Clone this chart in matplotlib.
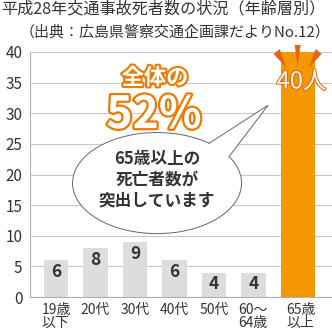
import matplotlib
matplotlib.use("Agg")
import matplotlib.pyplot as plt
import matplotlib.patheffects as pe
from matplotlib.patches import Ellipse, Polygon
import numpy as np

plt.rcParams['font.family'] = ['Noto Sans CJK JP', 'DejaVu Sans']

# data
age_groups = ['19歳\n以下', '20代', '30代', '40代', '50代', '60～\n64歳', '65歳\n以上']
deaths = [6, 8, 9, 6, 4, 4, 40]
share_label = '52%'
share_head = '全体の'
bubble_text = '65歳以上の\n死亡者数が\n突出しています'
title = '平成28年交通事故死者数の状況（年齢層別）'
source = '（出典：広島県警察交通企画課だよりNo.12）'

GRAY = '#dcdddd'
ORANGE = '#f39800'
DARK_ORANGE = '#e8630f'
LINE_ORANGE = '#ee7800'
TEXT = '#333333'

W = H = 332
fig = plt.figure(figsize=(W / 100, H / 100), dpi=100)
ax = fig.add_axes([29.5 / W, 1 - 297 / H, (W - 29.5) / W, 245 / H])

x = np.arange(len(deaths))
# last bar is wider and nudged right
x_last = x[-1] + 0.12
ax.bar(x[:-1], deaths[:-1], width=0.62, color=GRAY, zorder=2)
ax.bar(x_last, deaths[-1], width=0.86, color=ORANGE, zorder=2, clip_on=False)

ax.set_xlim(-0.67, 6.99)
ax.set_ylim(0, 40)
ax.set_yticks(range(0, 41, 5))
ax.yaxis.grid(True, color='#c8c8c8', lw=0.8)
ax.set_axisbelow(True)
for s in ['top', 'right']:
    ax.spines[s].set_visible(False)
for s in ['left', 'bottom']:
    ax.spines[s].set_color('#b0b0b0')
    ax.spines[s].set_linewidth(0.8)
ax.tick_params(length=0, colors=TEXT)
ax.tick_params(axis='y', labelsize=11, pad=5)
ax.set_xticks(list(x[:-1]) + [x_last + 0.08])
ax.set_xticklabels(age_groups, fontsize=10, color=TEXT, multialignment='left',
                   linespacing=0.95)
ax.tick_params(axis='x', pad=4)

# values inside the gray bars
for xi, v in zip(x[:-1], deaths[:-1]):
    ax.text(xi, v - 1.9, str(v), ha='center', va='center', fontsize=12.5,
            fontweight='bold', color=TEXT, zorder=4)

# value on the orange bar
ax.text(x_last + 0.1, 35.1, f'{deaths[-1]}人', ha='center', va='center',
        fontsize=17, color='white', zorder=6,
        path_effects=[pe.withStroke(linewidth=1.4, foreground=DARK_ORANGE)])

# burst spikes above the orange bar (pixel offsets from bar top centre)
sx, sy = 1 / 39.5, 1 / 6.125
spikes = [[(-24, -2), (-18, 3), (-11, -16)],
          [(-3, 7), (3, 7), (0, -14)],
          [(18, 3), (24, -2), (11, -16)]]
for sp in spikes:
    pts = [(x_last + dx * sx, deaths[-1] + dy * sy) for dx, dy in sp]
    ax.add_patch(Polygon(pts, closed=True, fc=DARK_ORANGE, ec='none',
                         zorder=5, clip_on=False))

# speech bubble
cx, cy = 2.56, 18.6
ax.add_patch(Ellipse((cx, cy), 4.28, 16.5, fc='white', ec='#666666',
                     lw=0.7, zorder=3))
b1, tip, b2 = (3.88, 25.1), (5.37, 31.3), (4.38, 22.9)
ax.add_patch(Polygon([b1, tip, b2, (3.7, 22.5)], closed=True, fc='white',
                     ec='none', zorder=3.5))
ax.plot([b1[0], tip[0], b2[0]], [b1[1], tip[1], b2[1]], color='#666666',
        lw=0.7, zorder=3.6)
ax.text(cx, 19.1, bubble_text, ha='center', va='center', fontsize=12,
        fontweight='bold', color=TEXT, linespacing=1.2, zorder=4)

# "全体の 52%"
ax.text(2.51, 35.75, share_head, ha='center', va='center', fontsize=16,
        fontweight='bold', color='white', zorder=6,
        path_effects=[pe.withStroke(linewidth=3, foreground=LINE_ORANGE)])
ax.text(2.48, 29.7, share_label, ha='center', va='center', fontsize=32,
        fontweight='bold', color='white', zorder=6,
        path_effects=[pe.withStroke(linewidth=3.2, foreground=LINE_ORANGE)])

fig.text(1 / W, 1 - 9 / H, title, ha='left', va='center', fontsize=11.6,
         color=TEXT)
fig.text(175 / W, 1 - 32.5 / H, source, ha='center', va='center',
         fontsize=10.8, color=TEXT)

fig.savefig('out.png', dpi=100)
